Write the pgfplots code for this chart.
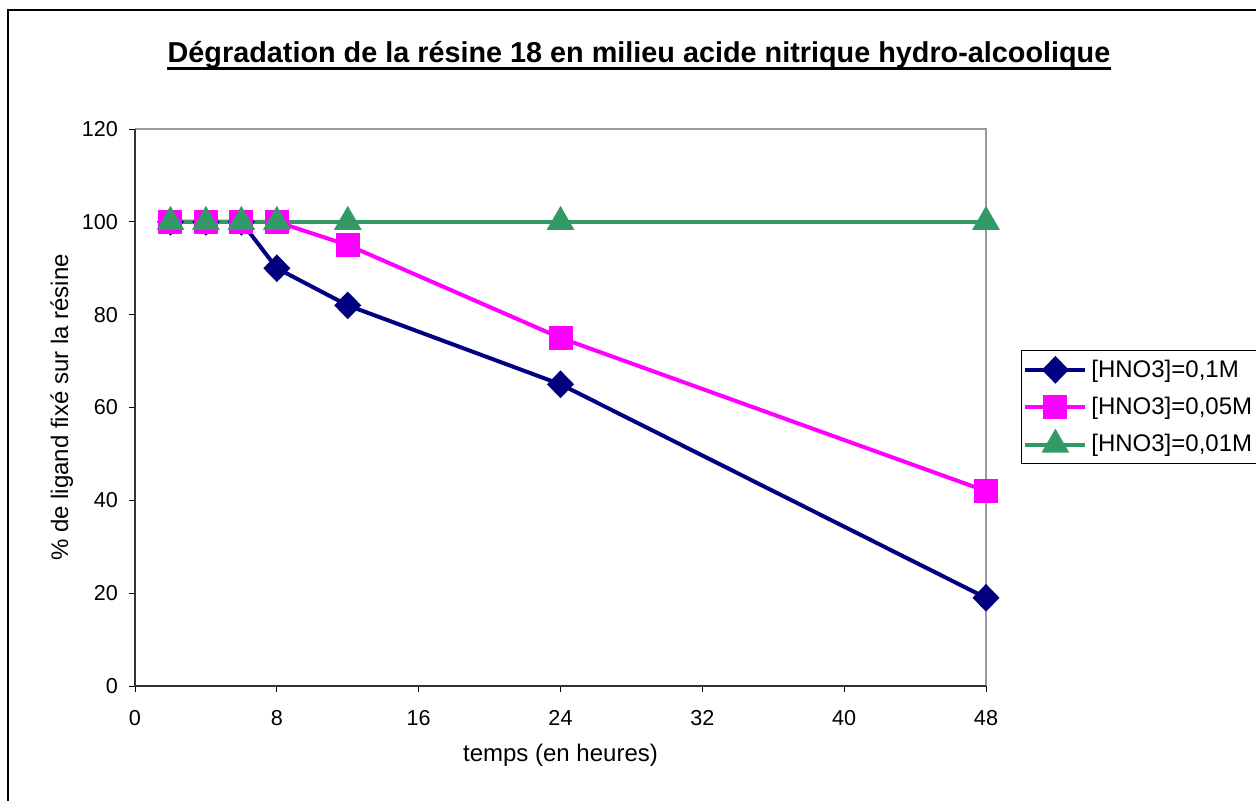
\documentclass[border=0pt]{standalone}
\usepackage{pgfplots}
\pgfplotsset{compat=1.18}
\usepackage{fontspec}
\setmainfont{Liberation Sans}
\definecolor{navyc}{HTML}{000080}
\definecolor{magc}{HTML}{FF00FF}
\definecolor{greenc}{HTML}{339966}
\begin{document}
\begin{tikzpicture}
\useasboundingbox (0,0) rectangle (628pt,400pt);
\draw[black, line width=0.6pt] (4pt,-10pt) rectangle (650pt,395pt);
\node[font=\fontsize{14.4}{16}\selectfont\bfseries, inner sep=0pt, anchor=base] (title) at (319.5pt,368.5pt) {Dégradation de la résine 18 en milieu acide nitrique hydro-alcoolique};
\draw[black, line width=1.3pt] ([yshift=-2.8pt]title.base west) -- ([yshift=-2.8pt]title.base east);
\begin{axis}[
  at={(67.5pt,57pt)}, anchor=south west,
  scale only axis, width=425.5pt, height=278.5pt,
  xmin=0, xmax=48, ymin=0, ymax=120,
  xtick={0,8,16,24,32,40,48}, ytick={0,20,40,60,80,100,120},
  xtick pos=left, ytick pos=left,
  tick align=outside, major tick length=3pt,
  tick style={black, line width=0.5pt},
  axis line style={draw=none},
  every tick label/.append style={font=\fontsize{10.8}{12}\selectfont},
  /pgf/number format/assume math mode=true,
  xticklabel style={yshift=-5.5pt},
  yticklabel style={xshift=-2pt},
  xlabel={temps (en heures)}, ylabel={\% de ligand fixé sur la résine},
  every axis x label/.style={at={(axis description cs:0.5,-0.124)}, anchor=center, font=\fontsize{12}{14}\selectfont},
  every axis y label/.style={at={(axis description cs:-0.086,0.5)}, anchor=center, rotate=90, font=\fontsize{12}{14}\selectfont},
  clip=false,
  legend style={at={(1.041,0.603)}, anchor=north west, draw=black, line width=0.5pt,
    font=\fontsize{12}{14}\selectfont, inner xsep=1pt, inner ysep=2.5pt,
    row sep=4.5pt, cells={anchor=west}},
  legend image code/.code={
    \draw[#1, mark repeat=2, mark phase=2] plot coordinates {(0pt,0pt) (15pt,0pt) (30pt,0pt)};},
]
\draw[gray!80, line width=0.8pt] (axis cs:0,120) -- (axis cs:48,120) -- (axis cs:48,0);
\draw[black!80, line width=0.8pt] (axis cs:0,120) -- (axis cs:0,0) -- (axis cs:48,0);
\addplot[navyc, line width=2pt, mark=diamond*, mark size=5.5pt, mark options={solid, xscale=1.3}] coordinates {
(2,100) (4,100) (6,100) (8,90) (12,82) (24,65) (48,19)};
\addlegendentry{[HNO3]=0,1M}
\addplot[magc, line width=2pt, mark=square*, mark size=5pt] coordinates {
(2,100) (4,100) (6,100) (8,100) (12,95) (24,75) (48,42)};
\addlegendentry{[HNO3]=0,05M}
\addplot[greenc, line width=2pt, mark=triangle*, mark size=6pt] coordinates {
(2,100) (4,100) (6,100) (8,100) (12,100) (24,100) (48,100)};
\addlegendentry{[HNO3]=0,01M}
\end{axis}
\end{tikzpicture}
\end{document}
